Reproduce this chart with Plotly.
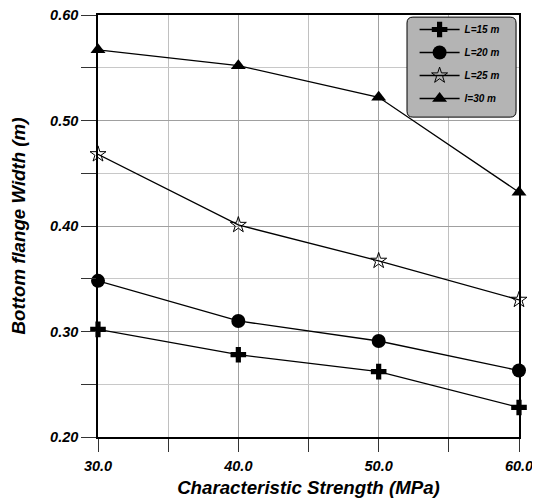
import plotly.graph_objects as go

# data
strength = [30, 40, 50, 60]
l15 = [0.302, 0.278, 0.262, 0.228]
l20 = [0.348, 0.310, 0.291, 0.263]
l25 = [0.468, 0.401, 0.367, 0.330]
l30 = [0.567, 0.552, 0.522, 0.432]
series_names = ["L=15 m", "L=20 m", "L=25 m", "l=30 m"]

FONT = "Liberation Sans, Arial, sans-serif"

fig = go.Figure()
styles = [
    dict(symbol="cross", size=13, color="black"),
    dict(symbol="circle", size=14, color="black"),
    dict(symbol="star-open", size=12, color="black", line=dict(width=1, color="black")),
    dict(symbol="triangle-up", size=13, color="black"),
]
for i, (name, vals) in enumerate(zip(series_names, [l15, l20, l25, l30])):
    fig.add_trace(go.Scatter(
        x=strength, y=vals, name=name, mode="lines+markers",
        line=dict(color="black", width=1.3),
        marker=styles[i], legendgroup=str(i), cliponaxis=False,
    ))

# rounded grey box behind the legend (paper coords)
x0, x1, y0, y1, rx, ry = 0.734, 0.993, 0.758, 0.995, 0.014, 0.014
box = (f"M {x0+rx},{y1} L {x1-rx},{y1} Q {x1},{y1} {x1},{y1-ry} "
       f"L {x1},{y0+ry} Q {x1},{y0} {x1-rx},{y0} L {x0+rx},{y0} "
       f"Q {x0},{y0} {x0},{y0+ry} L {x0},{y1-ry} Q {x0},{y1} {x0+rx},{y1} Z")
fig.add_shape(type="path", path=box, xref="paper", yref="paper",
              fillcolor="#b4b4b4", line=dict(color="black", width=1), layer="above")

# page body adds an 8px offset, so the figure is shrunk to match
fig.update_layout(
    template="none",
    width=532, height=496,
    margin=dict(l=90, r=21, t=7, b=67),
    plot_bgcolor="white", paper_bgcolor="white",
    font=dict(family=FONT, color="black"),
    legend=dict(
        x=0.752, y=1.0, xanchor="left", yanchor="top",
        bgcolor="rgba(0,0,0,0)", borderwidth=0, itemwidth=40,
        font=dict(size=10, weight="bold", style="italic", color="black"),
        tracegroupgap=4, traceorder="grouped",
    ),
)
fig.update_xaxes(
    automargin=False, ticklabeloverflow="allow",
    range=[30, 60], tickvals=[30, 40, 50, 60], tickformat=".1f",
    showgrid=True, gridcolor="#a0a0a0", gridwidth=1,
    minor=dict(tickvals=[35, 45, 55], ticks="outside", ticklen=13,
               showgrid=True, gridcolor="#c0c0c0", tickcolor="#333"),
    ticks="outside", ticklen=13, tickcolor="#333", ticklabelstandoff=2,
    showline=True, linecolor="black", linewidth=1.5, mirror=True,
    zeroline=False,
    tickfont=dict(size=14.5, weight="bold", style="italic", color="black"),
    title=dict(text="Characteristic Strength (MPa)", standoff=8,
               font=dict(size=18.7, weight="bold", style="italic", color="black")),
)
fig.update_yaxes(
    automargin=False, ticklabeloverflow="allow",
    range=[0.20, 0.60], tickvals=[0.2, 0.3, 0.4, 0.5, 0.6], tickformat=".2f",
    showgrid=True, gridcolor="#a0a0a0", gridwidth=1,
    minor=dict(tickvals=[0.25, 0.35, 0.45, 0.55], ticks="outside", ticklen=15,
               showgrid=True, gridcolor="#c8c8c8", tickcolor="#333"),
    ticks="outside", ticklen=15, tickcolor="#333",
    showline=True, linecolor="black", linewidth=1.5, mirror=True,
    zeroline=False,
    tickfont=dict(size=14.5, weight="bold", style="italic", color="black"),
    title=dict(text="Bottom flange Width (m)", standoff=27,
               font=dict(size=18.7, weight="bold", style="italic", color="black")),
)

fig.write_html("out.html")
